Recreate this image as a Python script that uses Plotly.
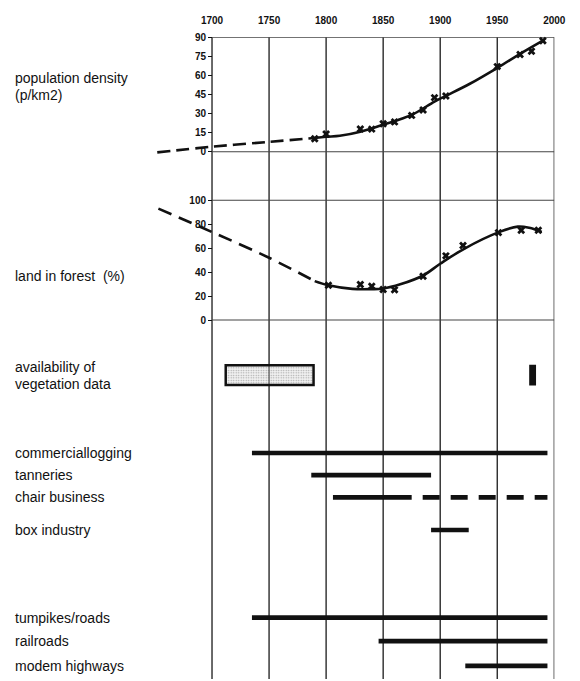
import plotly.graph_objects as go

# ---------------- data ----------------
year_ticks = [1700, 1750, 1800, 1850, 1900, 1950, 2000]

# population density (persons per km2): census points and fitted trend
pop_years = [1790, 1800, 1830, 1840, 1850, 1860, 1875, 1885, 1895, 1905, 1950, 1970, 1980, 1990]
pop_values = [10.2, 14.0, 17.9, 17.8, 22.1, 23.5, 28.6, 32.8, 42.6, 43.9, 67.0, 76.5, 79.1, 87.4]
pop_trend_years = [1790, 1800, 1812, 1830, 1850, 1875, 1895, 1905, 1926, 1951, 1970, 1990]
pop_trend_values = [10.8, 11.8, 12.6, 15.8, 21.3, 29.0, 39.5, 44.0, 53.5, 66.5, 77.0, 87.4]
pop_early_years = [1652, 1700, 1750, 1790]
pop_early_values = [-0.5, 4.0, 7.8, 10.8]
pop_ticks = [0, 15, 30, 45, 60, 75, 90]

# land in forest (%): survey points and fitted trend
forest_years = [1802, 1830, 1840, 1850, 1860, 1885, 1905, 1920, 1951, 1971, 1986]
forest_values = [29.0, 29.7, 28.3, 25.5, 25.2, 36.5, 53.6, 62.2, 73.0, 75.0, 75.0]
forest_trend_years = [1790, 1802, 1823, 1840, 1850, 1865, 1885, 1900, 1921, 1952, 1968, 1978, 1989]
forest_trend_values = [32.5, 29.0, 26.0, 25.8, 26.3, 29.8, 37.2, 47.0, 59.5, 73.6, 78.0, 77.0, 73.5]
forest_early_years = [1653, 1700, 1750, 1790]
forest_early_values = [93.0, 73.5, 52.0, 32.5]
forest_ticks = [0, 20, 40, 60, 80, 100]

# periods with vegetation data
veg_start = [1712, 1978]
veg_end = [1789, 1984]

# land-use activities
activities = ["commerciallogging", "tanneries", "chair business", "box industry",
              "tumpikes/roads", "railroads", "modem highways"]
act_start = [1735, 1787, 1806, 1892, 1735, 1846, 1922]
act_end = [1994, 1892, 1875, 1925, 1994, 1994, 1994]
chair_intermittent = [1875, 1994]

# ---------------- page geometry ----------------
W, H = 580, 681
X_MIN, X_MAX = 1650, 2000
PX_X_MIN, PX_X_MAX = 158.25, 566.0
PX_AXIS = 216.5          # horizontal pixel of the 1700 line
PX_TOP = 32.7            # top of the grid
INK = "#111111"
FONT = "Liberation Sans, Arial, sans-serif"


def py(px):
    """page pixel (from top) -> paper fraction"""
    return 1 - px / H


def ydomain(px_zero, px_full, v_full, r_lo, r_hi):
    k = (px_zero - px_full) / v_full
    bottom = px_zero + (0 - r_lo) * k
    top = px_full - (r_hi - v_full) * k
    return [py(bottom), py(top)]


row_px = [452.7, 475.0, 497.5, 530.5, 619.0, 642.7, 667.7]
veg_row_px = 374.0
panel_labels = ["population density", "(p/km2)", "land in forest\u00a0 (%)",
                "availability of", "vegetation data"]
panel_label_px = [73.5, 90.5, 273.5, 365.5, 382.5]

fig = go.Figure()

# ---- population density panel ----
fig.add_trace(go.Scatter(x=pop_early_years, y=pop_early_values, mode="lines",
                         line=dict(color=INK, width=2.6, dash="13px,6px", shape="spline"),
                         xaxis="x", yaxis="y"))
fig.add_trace(go.Scatter(x=pop_trend_years, y=pop_trend_values, mode="lines",
                         line=dict(color=INK, width=2.6, shape="spline", smoothing=1.0),
                         xaxis="x", yaxis="y"))
fig.add_trace(go.Scatter(x=pop_years, y=pop_values, mode="markers",
                         marker=dict(symbol="x", size=7, color=INK),
                         cliponaxis=False, xaxis="x", yaxis="y"))

# ---- forest panel ----
fig.add_trace(go.Scatter(x=forest_early_years, y=forest_early_values, mode="lines",
                         line=dict(color=INK, width=2.6, dash="14px,8px", shape="spline"),
                         xaxis="x", yaxis="y2"))
fig.add_trace(go.Scatter(x=forest_trend_years, y=forest_trend_values, mode="lines",
                         line=dict(color=INK, width=2.6, shape="spline", smoothing=1.0),
                         xaxis="x", yaxis="y2"))
fig.add_trace(go.Scatter(x=forest_years, y=forest_values, mode="markers",
                         marker=dict(symbol="x", size=7, color=INK),
                         cliponaxis=False, xaxis="x", yaxis="y2"))

# ---- vegetation data availability ----
fig.add_trace(go.Bar(orientation="h", base=[veg_start[0]], x=[veg_end[0] - veg_start[0]],
                     y=[veg_row_px], width=20,
                     marker=dict(color="rgba(215,215,215,0.35)",
                                 line=dict(color=INK, width=2.5),
                                 pattern=dict(shape=".", fgcolor="#555555", size=2.5,
                                              solidity=0.25, fillmode="overlay")),
                     xaxis="x", yaxis="y3"))
fig.add_trace(go.Bar(orientation="h", base=[veg_start[1]], x=[veg_end[1] - veg_start[1]],
                     y=[veg_row_px], width=21,
                     marker=dict(color=INK, line=dict(width=0)),
                     xaxis="x", yaxis="y3"))

# ---- activity bars ----
for name, s, e, ry in zip(activities, act_start, act_end, row_px):
    fig.add_trace(go.Scatter(x=[s, e], y=[ry, ry], mode="lines",
                             line=dict(color=INK, width=4.6), name=name,
                             xaxis="x", yaxis="y3"))
chair_row = row_px[activities.index("chair business")]
fig.add_trace(go.Scatter(x=chair_intermittent, y=[chair_row, chair_row], mode="lines",
                         line=dict(color=INK, width=4.6, dash="0px,11px,17px,0px"),
                         xaxis="x", yaxis="y3"))

# ---- grid: vertical year lines through all panels ----
shapes = []
for yr in year_ticks:
    shapes.append(dict(type="line", xref="x", yref="paper", x0=yr, x1=yr,
                       y0=0, y1=py(PX_TOP), layer="below",
                       line=dict(color="#1a1a1a", width=1.3)))
for v in (0, 90):
    shapes.append(dict(type="line", xref="x", yref="y", x0=1700, x1=2000, y0=v, y1=v,
                       layer="below", line=dict(color="#444444", width=1.1)))
for v in (0, 100):
    shapes.append(dict(type="line", xref="x", yref="y2", x0=1700, x1=2000, y0=v, y1=v,
                       layer="below", line=dict(color="#444444", width=1.1)))

# ---- labels on the left ----
annotations = []
for txt, p in zip(panel_labels, panel_label_px):
    annotations.append(dict(text=txt, xref="paper", yref="paper", x=13 / W, y=py(p),
                            xanchor="left", yanchor="middle", showarrow=False,
                            font=dict(family=FONT, size=14, color=INK)))
for txt, p in zip(activities, row_px):
    annotations.append(dict(text=txt, xref="paper", yref="paper", x=13 / W, y=py(p),
                            xanchor="left", yanchor="middle", showarrow=False,
                            font=dict(family=FONT, size=14, color=INK)))

tickfont = dict(family=FONT, size=10, color=INK, weight="bold")
x_domain = [PX_X_MIN / W, PX_X_MAX / W]

fig.update_layout(
    width=W, height=H,
    margin=dict(l=0, r=0, t=0, b=0),
    paper_bgcolor="white", plot_bgcolor="rgba(0,0,0,0)",
    showlegend=False, barmode="overlay",
    xaxis=dict(domain=x_domain, range=[X_MIN, X_MAX], anchor="y", side="top",
               tickvals=year_ticks, ticks="", showgrid=False, zeroline=False,
               showline=False, tickfont=tickfont, ticklabelstandoff=10),
    yaxis=dict(domain=ydomain(148.3, 32.7, 90, -3, 90), range=[-3, 90],
               anchor="free", position=PX_AXIS / W, tickvals=pop_ticks,
               ticks="outside", ticklen=4, tickcolor=INK, showgrid=False,
               zeroline=False, showline=False, tickfont=tickfont),
    yaxis2=dict(domain=ydomain(318.3, 197.3, 100, -3, 103), range=[-3, 103],
                anchor="free", position=PX_AXIS / W, tickvals=forest_ticks,
                ticks="outside", ticklen=4, tickcolor=INK, showgrid=False,
                zeroline=False, showline=False, tickfont=tickfont),
    yaxis3=dict(domain=[0, py(335)], range=[H, 335], visible=False),
    shapes=shapes,
    annotations=annotations,
)

fig.write_html("out.html")
